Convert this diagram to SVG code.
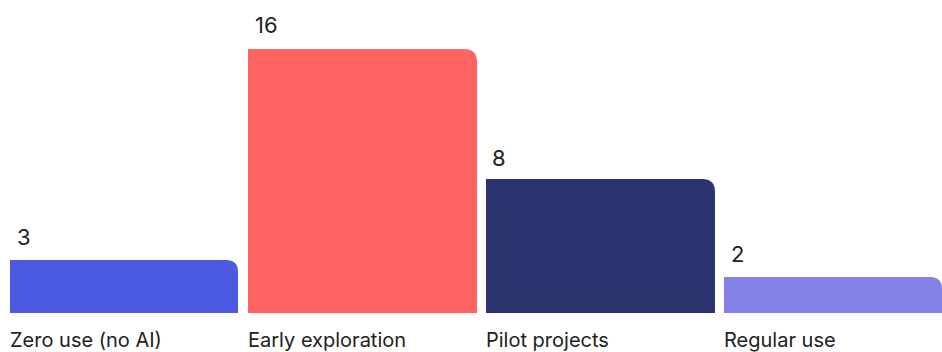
<svg xmlns="http://www.w3.org/2000/svg" width="942" height="352" viewBox="0 0 942 352">
<style>
text{font-family:Inter,"Liberation Sans",sans-serif;fill:#222;}
.v{font-size:22px;}
.l{font-size:20px;}
</style>
<rect width="942" height="352" fill="#fff"/>
<g id="bar-zero">
<path d="M10 260 H226 Q238 260 238 272 V313 H10 Z" fill="#4C5BE1"/>
<text class="v" x="17" y="245">3</text>
<text class="l" x="10" y="347">Zero use (no AI)</text>
</g>
<g id="bar-early">
<path d="M248 49 H464 Q477 49 477 62 V313 H248 Z" fill="#FF6462"/>
<text class="v" x="255" y="33">16</text>
<text class="l" x="248" y="347">Early exploration</text>
</g>
<g id="bar-pilot">
<path d="M486 179 H702 Q715 179 715 192 V313 H486 Z" fill="#2C346F"/>
<text class="v" x="492" y="166">8</text>
<text class="l" x="486" y="347">Pilot projects</text>
</g>
<g id="bar-regular">
<path d="M724 277 H930 Q942 277 942 289 V313 H724 Z" fill="#8482E6"/>
<text class="v" x="731" y="262">2</text>
<text class="l" x="724" y="347">Regular use</text>
</g>
<g id="connectors"/>
</svg>
